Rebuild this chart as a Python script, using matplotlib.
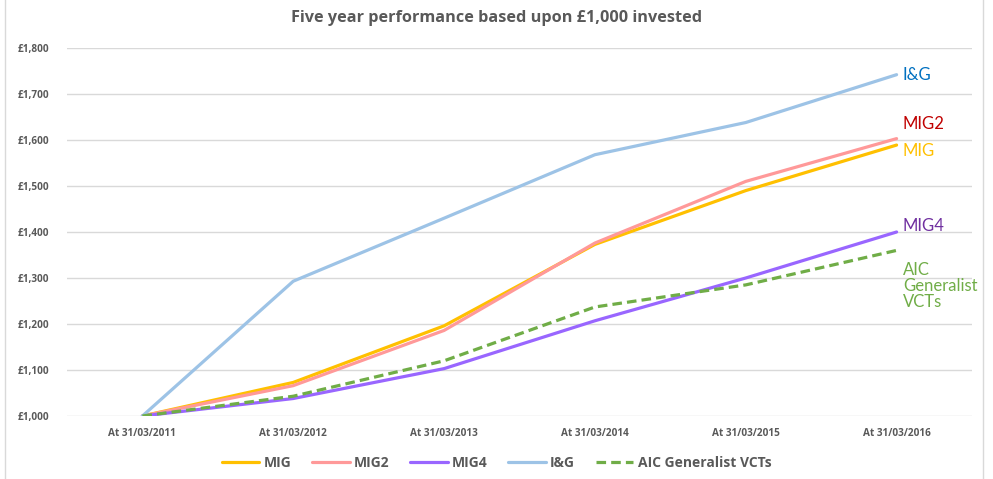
import matplotlib
matplotlib.use("Agg")
import matplotlib.pyplot as plt
from matplotlib.patches import Rectangle

categories = ["At 31/03/2011", "At 31/03/2012", "At 31/03/2013",
              "At 31/03/2014", "At 31/03/2015", "At 31/03/2016"]
mig = [1000, 1073, 1196, 1373, 1490, 1589]
mig2 = [1000, 1066, 1186, 1376, 1510, 1603]
mig4 = [1000, 1038, 1103, 1207, 1300, 1400]
ig = [1000, 1293, 1430, 1568, 1638, 1742]
aic = [1000, 1043, 1120, 1237, 1285, 1360]
yticks = [1000, 1100, 1200, 1300, 1400, 1500, 1600, 1700, 1800]
ytick_labels = ["£1,000", "£1,100", "£1,200", "£1,300", "£1,400",
                "£1,500", "£1,600", "£1,700", "£1,800"]

# end labels: (text, y-position value, colour)
end_labels = [("I&G", 1741, "#0070C0"), ("MIG2", 1635, "#C00000"),
              ("MIG", 1576, "#FFC000"), ("MIG4", 1413, "#7030A0"),
              ("AIC\nGeneralist\nVCTs", 1283, "#70AD47")]

plt.rcParams['font.family'] = ['Lato', 'DejaVu Sans']
bold_font = ['Open Sans', 'DejaVu Sans']
grey = "#595959"

fig = plt.figure(figsize=(9.93, 4.79), dpi=100)
ax = fig.add_axes([67/993, 1-416/479, 905/993, 368/479])

x = list(range(len(categories)))
ax.plot(x, mig, color="#FFC000", lw=2.3, label="MIG", solid_capstyle="round")
ax.plot(x, mig2, color="#FF9999", lw=2.3, label="MIG2", solid_capstyle="round")
ax.plot(x, mig4, color="#9966FF", lw=2.3, label="MIG4", solid_capstyle="round")
ax.plot(x, ig, color="#9DC3E6", lw=2.3, label="I&G", solid_capstyle="round")
ax.plot(x, aic, color="#70AD47", lw=2.3, ls=(0, (3, 1.6)), label="AIC Generalist VCTs")

ax.set_xlim(-0.5, len(categories) - 0.5)
ax.set_ylim(1000, 1800)
ax.set_yticks(yticks)
ax.set_yticklabels(ytick_labels)
ax.set_xticks(x)
ax.set_xticklabels(categories)
ax.grid(axis="y", color="#D9D9D9", lw=1)
ax.set_axisbelow(True)
for s in ax.spines.values():
    s.set_visible(False)
ax.tick_params(length=0, labelcolor=grey)
for lab in ax.get_xticklabels() + ax.get_yticklabels():
    lab.set_fontweight("bold")
    lab.set_family(bold_font)
    lab.set_fontsize(7.2)
ax.tick_params(axis="y", pad=13)
ax.tick_params(axis="x", pad=9)

for txt, yv, col in end_labels:
    ax.annotate(txt, xy=(x[-1], yv), xytext=(4.5, 0), textcoords="offset points",
                ha="left", va="center", color=col, fontsize=12,
                linespacing=1.0, annotation_clip=False)

fig.suptitle("Five year performance based upon £1,000 invested", y=1-18/479,
             va="center", fontsize=11.7, fontweight="bold", color=grey,
             family=bold_font)

leg = fig.legend(loc="center", bbox_to_anchor=(0.5, 1-463/479), ncol=5,
                 frameon=False, handlelength=2.7, columnspacing=1.5,
                 handletextpad=0.3,
                 prop={"weight": "bold", "size": 10, "family": bold_font})
for t in leg.get_texts():
    t.set_color(grey)

fig.patches.append(Rectangle((5/993, -0.01), 978/993, 1.02, transform=fig.transFigure,
                             fill=False, edgecolor="#D9D9D9", lw=1))

fig.savefig("out.png", dpi=100)
